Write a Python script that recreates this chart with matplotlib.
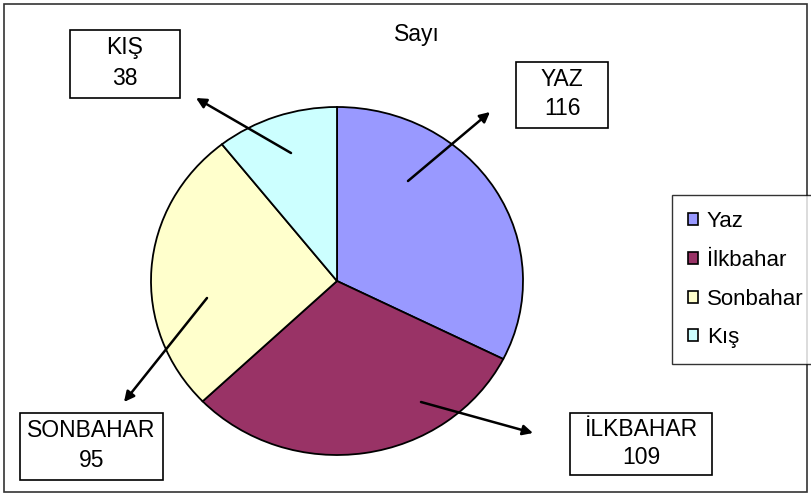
import matplotlib.pyplot as plt
from matplotlib.patches import Rectangle

plt.rcParams['font.family'] = ['Liberation Sans', 'DejaVu Sans']

seasons = ['Yaz', 'İlkbahar', 'Sonbahar', 'Kış']
counts = [116, 109, 95, 38]
box_names = ['YAZ', 'İLKBAHAR', 'SONBAHAR', 'KIŞ']
colors = ['#9999FF', '#993366', '#FFFFCC', '#CCFFFF']

W, H = 811, 496
fig = plt.figure(figsize=(W / 100, H / 100), dpi=100)

# pie axes: ellipse centre (337, 281), radii 186 x 174 px
cx, cy, rx, ry = 337, 281, 186, 174
pax = fig.add_axes([(cx - rx) / W, (H - cy - ry) / H, 2 * rx / W, 2 * ry / H])
wedges, _ = pax.pie(counts, colors=colors, startangle=90, counterclock=False,
                    wedgeprops=dict(edgecolor='black', linewidth=1.3))
pax.set_aspect('auto')
pax.set_xlim(-1, 1)
pax.set_ylim(-1, 1)
pax.axis('off')
pax.set_zorder(1)

# overlay axes in pixel units for frame, labels and arrows
bg = fig.add_axes([0, 0, 1, 1])
bg.set_xlim(0, W)
bg.set_ylim(H, 0)
bg.axis('off')
bg.patch.set_alpha(0)
bg.set_zorder(2)
bg.add_patch(Rectangle((4, 4), 803, 488, fill=False, lw=1.2, ec='#333333'))
bg.text(417, 34, 'Sayı', ha='center', va='center', fontsize=16.5)

# label boxes (x0, y0, x1, y1) and leader arrows (tail -> head)
boxes = [(516, 62, 608, 128), (570, 413, 712, 475), (20, 413, 163, 480), (70, 30, 180, 98)]
arrows = [((408, 181), (490, 112)), ((421, 402), (533, 433)),
          ((207, 298), (124, 402)), ((291, 153), (196, 98))]

for name, n, (x0, y0, x1, y1), (tail, head) in zip(box_names, counts, boxes, arrows):
    bg.add_patch(Rectangle((x0, y0), x1 - x0, y1 - y0, fill=True, fc='white',
                           ec='black', lw=1.2, zorder=3))
    xm = (x0 + x1) / 2
    bg.text(xm, y0 + (y1 - y0) * 0.26, name, ha='center', va='center', fontsize=16.5, zorder=4)
    bg.text(xm, y0 + (y1 - y0) * 0.71, str(n), ha='center', va='center', fontsize=16.5, zorder=4)
    bg.annotate('', xy=head, xytext=tail,
                arrowprops=dict(arrowstyle='-|>', color='black', lw=1.8,
                                mutation_scale=15, shrinkA=0, shrinkB=0), zorder=5)

leg = fig.legend(wedges, seasons, loc='upper left',
                 bbox_to_anchor=(672 / W, 1 - 195 / H), borderaxespad=0,
                 fontsize=16, frameon=True, fancybox=False, edgecolor='black',
                 handlelength=0.45, handleheight=0.45, handletextpad=0.4,
                 labelspacing=0.8, borderpad=0.72)
leg.get_frame().set_linewidth(1.0)
leg.set_zorder(3)
for h in leg.legend_handles:
    h.set_linewidth(1.2)

fig.savefig('out.png', dpi=100)
